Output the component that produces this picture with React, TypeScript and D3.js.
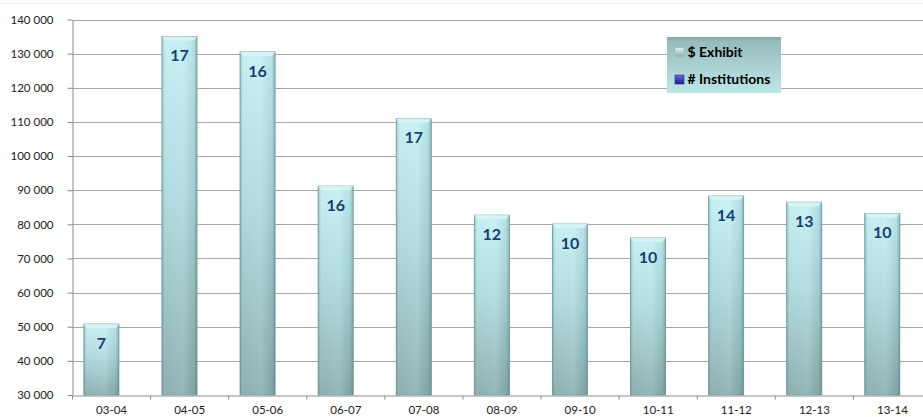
import React, { useEffect, useRef } from "react";
import * as d3 from "d3";

const years = ["03-04", "04-05", "05-06", "06-07", "07-08", "08-09", "09-10", "10-11", "11-12", "12-13", "13-14"];
const exhibit = [50800, 135000, 130500, 91200, 110900, 82700, 80100, 76000, 88300, 86500, 83200];
const institutions = [7, 17, 16, 16, 17, 12, 10, 10, 14, 13, 10];
const yTicks = [30000, 40000, 50000, 60000, 70000, 80000, 90000, 100000, 110000, 120000, 130000, 140000];
const seriesNames = ["$ Exhibit", "# Institutions"];

const App = () => {
  const svgRef = useRef<SVGSVGElement | null>(null);

  useEffect(() => {
    const width = 923;
    const height = 417;
    const margin = { top: 19.5, right: -8.5, bottom: 22, left: 72.5 };
    const font = "Lato, 'Open Sans', sans-serif";

    const svg = d3.select(svgRef.current).attr("width", width).attr("height", height);
    svg.selectAll("*").remove();

    const defs = svg.append("defs");
    const barGrad = defs.append("linearGradient").attr("id", "barGrad").attr("x1", 0).attr("y1", 0).attr("x2", 0).attr("y2", 1);
    barGrad.append("stop").attr("offset", "0%").attr("stop-color", "#c3eff3");
    barGrad.append("stop").attr("offset", "45%").attr("stop-color", "#acd9dd");
    barGrad.append("stop").attr("offset", "100%").attr("stop-color", "#88acad");

    const shade = defs.append("linearGradient").attr("id", "barShade").attr("x1", 0).attr("y1", 0).attr("x2", 1).attr("y2", 0);
    shade.append("stop").attr("offset", "0%").attr("stop-color", "#3f6b6d").attr("stop-opacity", 0.35);
    shade.append("stop").attr("offset", "12%").attr("stop-color", "#ffffff").attr("stop-opacity", 0.05);
    shade.append("stop").attr("offset", "60%").attr("stop-color", "#ffffff").attr("stop-opacity", 0.12);
    shade.append("stop").attr("offset", "90%").attr("stop-color", "#3f6b6d").attr("stop-opacity", 0.1);
    shade.append("stop").attr("offset", "100%").attr("stop-color", "#3f6b6d").attr("stop-opacity", 0.4);

    const legGrad = defs.append("linearGradient").attr("id", "legGrad").attr("x1", 0).attr("y1", 0).attr("x2", 0).attr("y2", 1);
    legGrad.append("stop").attr("offset", "0%").attr("stop-color", "#84a5a6");
    legGrad.append("stop").attr("offset", "8%").attr("stop-color", "#98bcbd");
    legGrad.append("stop").attr("offset", "100%").attr("stop-color", "#bde6e9");

    const swA = defs.append("linearGradient").attr("id", "swA").attr("x1", 0).attr("y1", 0).attr("x2", 0).attr("y2", 1);
    swA.append("stop").attr("offset", "0%").attr("stop-color", "#e4f4f5");
    swA.append("stop").attr("offset", "100%").attr("stop-color", "#8fb0b1");
    const swB = defs.append("linearGradient").attr("id", "swB").attr("x1", 0).attr("y1", 0).attr("x2", 0).attr("y2", 1);
    swB.append("stop").attr("offset", "0%").attr("stop-color", "#6b6be0");
    swB.append("stop").attr("offset", "100%").attr("stop-color", "#1c1c8a");

    // faint chart border at the top
    svg.append("line")
      .attr("x1", 0).attr("x2", width).attr("y1", 3.5).attr("y2", 3.5)
      .attr("stroke", "#f0f0f0");

    const x = d3.scaleBand()
      .domain(years)
      .range([margin.left, width - margin.right])
      .padding(0);

    const y = d3.scaleLinear()
      .domain([30000, 140000])
      .range([height - margin.bottom, margin.top]);

    const fmt = d3.formatLocale({ thousands: " ", grouping: [3], decimal: ",", currency: ["", ""] }).format(",");

    // gridlines
    svg.append("g")
      .selectAll("line")
      .data(yTicks.slice(1))
      .enter()
      .append("line")
      .attr("x1", margin.left)
      .attr("x2", width)
      .attr("y1", (d) => Math.round(y(d)) + 0.5)
      .attr("y2", (d) => Math.round(y(d)) + 0.5)
      .attr("stroke", "#a6a6a6")
      .attr("stroke-width", 1);

    // y axis
    const yAxis = svg.append("g")
      .attr("transform", `translate(${margin.left},0)`)
      .call(d3.axisLeft(y).tickValues(yTicks).tickSize(5).tickPadding(14).tickFormat((d) => fmt(d as number)).tickSizeOuter(0));
    yAxis.select(".domain").attr("stroke", "#8c8c8c");
    yAxis.selectAll(".tick line").attr("stroke", "#8c8c8c");
    yAxis.selectAll("text").attr("font-family", font).attr("font-size", 11.5).attr("fill", "#222");

    // x axis
    const xAxis = svg.append("g")
      .attr("transform", `translate(0,${Math.round(y(30000)) + 0.5})`)
      .call(d3.axisBottom(x).tickSize(0).tickPadding(10));
    xAxis.select(".domain").attr("stroke", "#8c8c8c");
    xAxis.selectAll("text").attr("font-family", font).attr("font-size", 11.5).attr("fill", "#222");
    xAxis.selectAll(".sep")
      .data(years)
      .enter()
      .append("line")
      .attr("x1", (d) => x(d)!)
      .attr("x2", (d) => x(d)!)
      .attr("y1", 0)
      .attr("y2", 4)
      .attr("stroke", "#8c8c8c");

    const barOffset = x.bandwidth() * 0.145;
    const barWidth = x.bandwidth() * 0.45;

    const data = years.map((year, i) => ({ year, value: exhibit[i], count: institutions[i] }));

    const bars = svg.append("g").selectAll("g.bar").data(data).enter().append("g").attr("class", "bar");

    bars.append("rect")
      .attr("x", (d) => x(d.year)! + barOffset)
      .attr("y", (d) => y(d.value))
      .attr("width", barWidth)
      .attr("height", (d) => y(30000) - y(d.value))
      .attr("fill", "url(#barGrad)")
      .attr("stroke", "#7a9fa1")
      .attr("stroke-width", 0.8);

    bars.append("rect")
      .attr("x", (d) => x(d.year)! + barOffset)
      .attr("y", (d) => y(d.value))
      .attr("width", barWidth)
      .attr("height", (d) => y(30000) - y(d.value))
      .attr("fill", "url(#barShade)");

    // bevel on top
    bars.append("path")
      .attr("d", (d) => {
        const x0 = x(d.year)! + barOffset;
        const y0 = y(d.value);
        return `M${x0},${y0} L${x0 + barWidth},${y0} L${x0 + barWidth - 3},${y0 + 4} L${x0 + 3},${y0 + 4} Z`;
      })
      .attr("fill", "#d9f6f8")
      .attr("opacity", 0.8);

    bars.append("text")
      .attr("x", (d) => x(d.year)! + barOffset + barWidth / 2)
      .attr("y", (d) => y(d.value) + 19)
      .attr("dy", "0.35em")
      .attr("text-anchor", "middle")
      .attr("font-family", font)
      .attr("font-weight", "bold")
      .attr("font-size", 16)
      .attr("fill", "#17406d")
      .text((d) => d.count);

    // legend
    const legend = svg.append("g").attr("transform", "translate(667,37)");
    legend.append("rect")
      .attr("width", 114)
      .attr("height", 56)
      .attr("fill", "url(#legGrad)");

    const items = legend.selectAll("g.item")
      .data(seriesNames)
      .enter()
      .append("g")
      .attr("class", "item")
      .attr("transform", (_, i) => `translate(8,${15 + i * 27.5})`);

    items.append("rect")
      .attr("x", 0)
      .attr("y", -4.5)
      .attr("width", 9)
      .attr("height", 9)
      .attr("fill", (_, i) => (i === 0 ? "url(#swA)" : "url(#swB)"))
      .attr("stroke", (_, i) => (i === 0 ? "#9bb4b5" : "#2a2a7a"))
      .attr("stroke-width", 0.6);

    items.append("text")
      .attr("x", 12.5)
      .attr("dy", "0.35em")
      .attr("font-family", font)
      .attr("font-weight", "bold")
      .attr("font-size", 14)
      .attr("fill", "#000")
      .text((d) => d);
  }, []);

  return <svg ref={svgRef} style={{ position: "absolute", left: 0, top: 0 }}></svg>;
};

export default App;
